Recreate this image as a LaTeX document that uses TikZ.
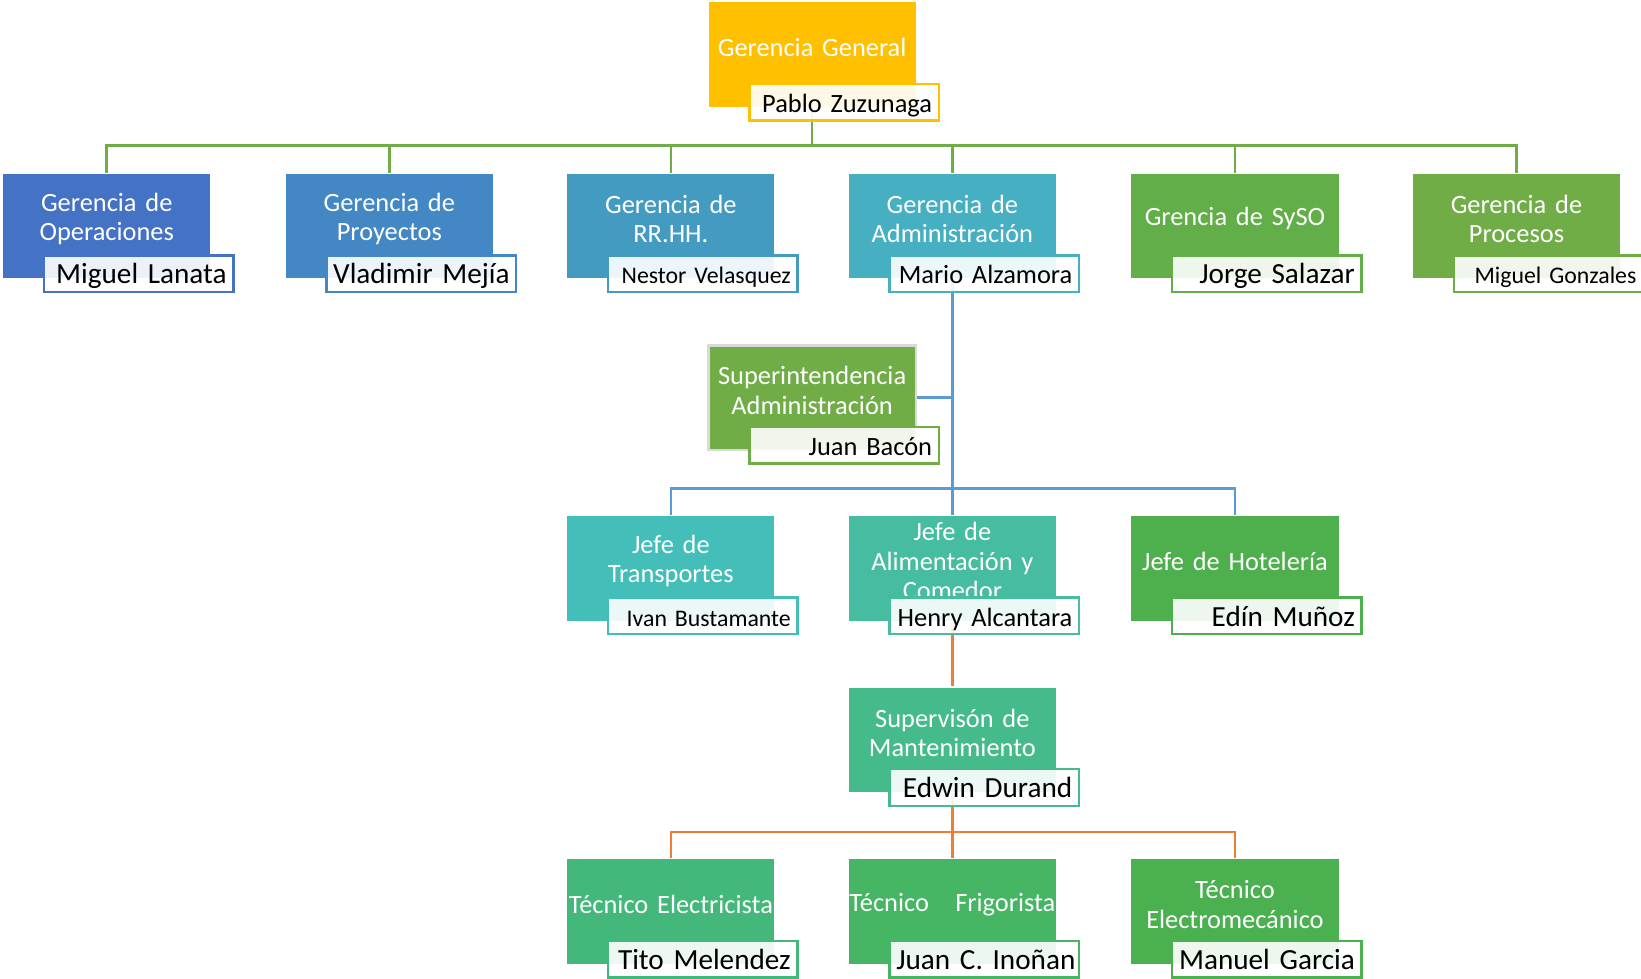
\documentclass[tikz,border=0pt]{standalone}
\usepackage{fontspec}
\setmainfont{Carlito}
\frenchspacing
\usetikzlibrary{positioning,backgrounds}
\definecolor{GoldGG}{RGB}{255,192,0}
\definecolor{BlueOpe}{RGB}{68,114,196}
\definecolor{BluePro}{RGB}{67,135,196}
\definecolor{BlueRRHH}{RGB}{68,155,194}
\definecolor{TealAdm}{RGB}{70,175,194}
\definecolor{GreenSyso}{RGB}{98,174,72}
\definecolor{GreenPrc}{RGB}{112,173,71}
\definecolor{TealTra}{RGB}{67,190,184}
\definecolor{TealAli}{RGB}{70,189,160}
\definecolor{GreenHot}{RGB}{77,176,76}
\definecolor{TealMan}{RGB}{69,187,140}
\definecolor{GreenEle}{RGB}{67,184,122}
\definecolor{GreenFri}{RGB}{70,181,100}
\definecolor{GreenEmc}{RGB}{75,176,80}
\definecolor{LineGreen}{RGB}{112,173,71}
\definecolor{LineBlue}{RGB}{91,155,213}
\definecolor{LineOrange}{RGB}{237,125,49}
\definecolor{SoftBorder}{RGB}{217,217,217}
\tikzset{
	caja/.style={rectangle,fill=#1,minimum width=103.6pt,minimum height=52.3pt,inner sep=0pt,line width=1.2pt},
	titulo/.style={text=white,align=center,text width=106pt,inner sep=0pt,font=\fontsize{13.2}{14.7}\selectfont},
	nombre/.style={rectangle,draw=#1,fill=white,fill opacity=0.9,text opacity=1,line width=1.2pt,
		minimum width=94.7pt,minimum height=18.3pt,text width=88pt,inner xsep=3.35pt,inner ysep=0pt,
		text height=11.6pt,text depth=1.4pt,align=right},
	nomG/.style={font=\fontsize{14.6}{16}\selectfont},
	nomM/.style={font=\fontsize{13.2}{14.5}\selectfont},
	nomP/.style={font=\fontsize{11.9}{13}\selectfont},
	lnG/.style={draw=LineGreen,line width=1.3pt},
	lnB/.style={draw=LineBlue,line width=1.3pt},
	lnO/.style={draw=LineOrange,line width=1.3pt},
}
\begin{document}
\begin{tikzpicture}[x=0.5233pt,y=-0.5233pt]
	\useasboundingbox (0,0) rectangle (1568,935);
	\foreach \n/\x/\y/\c/\d/\t/\p/\s in {
		gg/776/2/GoldGG/none/{Gerencia General}/{Pablo Zuzunaga}/nomM,
		ope/102/166/BlueOpe/none/{Gerencia de\\Operaciones}/{Miguel Lanata}/nomG,
		pro/372/166/BluePro/none/{Gerencia de\\Proyectos}/{Vladimir Mejía}/nomG,
		rrh/641/166/BlueRRHH/none/{Gerencia de\\RR.HH.}/{Nestor Velasquez}/nomP,
		adm/910/166/TealAdm/none/{Gerencia de\\Administración}/{Mario Alzamora}/nomM,
		sys/1180/166/GreenSyso/none/{Grencia de SySO}/{Jorge Salazar}/nomG,
		prc/1449/166/GreenPrc/none/{Gerencia de\\Procesos}/{Miguel Gonzales}/nomP,
		sup/776/330/GreenPrc/SoftBorder/{Superintendencia\\Administración}/{Juan Bacón}/nomM,
		tra/641/493/TealTra/none/{Jefe de\\Transportes}/{Ivan Bustamante}/nomP,
		ali/910/493/TealAli/none/{Jefe de\\Alimentación y\\Comedor}/{Henry Alcantara}/nomM,
		hot/1180/493/GreenHot/none/{Jefe de Hotelería}/{Edín Muñoz}/nomG,
		man/910/657/TealMan/none/{Supervisón de\\Mantenimiento}/{Edwin Durand}/nomG,
		ele/641/821/GreenEle/none/{Técnico Electricista}/{Tito Melendez}/nomG,
		fri/910/821/GreenFri/none/{Técnico\ \ \ Frigorista}/{Juan C. Inoñan}/nomG,
		emc/1180/821/GreenEmc/none/{Técnico\\Electromecánico}/{Manuel Garcia}/nomG}{
		\node[caja=\c,draw=\d] (\n) at (\x,\y+50) {};
		\node[titulo] (\n-t) at ([yshift=3.6pt]\n.center) {\t};
		\node[nombre=\c,\s] (\n-n) at (\x+30.5,\y+95.5) {\mbox{\p}};
	}
	\begin{scope}[on background layer]
		\coordinate (busG) at (776,139);
		\draw[lnG] (gg.south) -- (busG);
		\foreach \u in {ope,pro,rrh,adm,sys,prc}
		\draw[lnG] (busG) -| (\u.north);
		\coordinate (busB) at (910,467);
		\draw[lnB] (adm.south) -- (busB);
		\draw[lnB] (sup.east) -- (sup.east -| adm.south);
		\foreach \u in {tra,ali,hot}
		\draw[lnB] (busB) -| (\u.north);
		\draw[lnO] (ali.south) -- (man.north);
		\coordinate (busO) at (910,795);
		\draw[lnO] (man.south) -- (busO);
		\foreach \u in {ele,fri,emc}
		\draw[lnO] (busO) -| (\u.north);
	\end{scope}
\end{tikzpicture}
\end{document}
